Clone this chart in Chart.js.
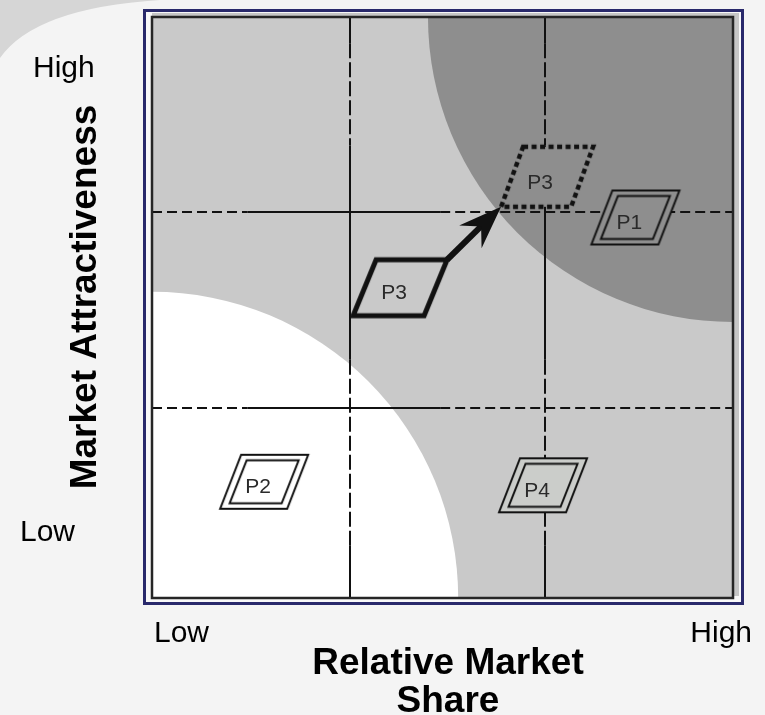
<!DOCTYPE html>
<html>
<head>
<meta charset="utf-8">
<title>Market Attractiveness / Relative Market Share</title>
<script src="https://cdn.jsdelivr.net/npm/chart.js@4.4.1/dist/chart.umd.min.js"></script>
<style>
  html, body { margin: 0; padding: 0; background: #f4f4f4; }
  #wrap { width: 765px; height: 715px; }
</style>
</head>
<body>
<div id="wrap"><canvas id="matrix" width="765" height="715"></canvas></div>
<script>
// products on the matrix, both axes run 0 (low) .. 100 (high)
const products = ['P1', 'P2', 'P3', 'P4'];
const shareValues = [83.2, 19.3, 42.7, 67.3];
const attractValues = [65.5, 20.0, 53.4, 19.4];

// where P3 is heading
const targetProducts = ['P3'];
const targetShare = [68.0];
const targetAttract = [72.5];

// quadrant dividers
const shareDividers = [34.1, 67.6];
const attractDividers = [32.7, 66.4];

// shaded zones: quarter circles out of two corners
const zoneX = [100, 0];
const zoneY = [100, 0];
const zoneRadius = [52.5, 52.7];

const xTickLabels = ['Low', 'High'];
const yTickLabels = ['Low', 'High'];
const xTitleLines = ['Relative Market', 'Share'];
const yTitle = 'Market Attractiveness';

// styles
const ink = '#111111';
const plotGray = '#c9c9c9';
const zoneColors = ['#8e8e8e', '#ffffff'];
const productKinds = ['double', 'double', 'bold', 'double'];
const productFills = ['#8e8e8e', '#ffffff', null, '#cbcdca'];
const labelFont = '21px "Liberation Sans", Arial, sans-serif';
const tickFont = '30px "Liberation Sans", Arial, sans-serif';
const titleFont = 'bold 37px "Liberation Sans", Arial, sans-serif';

// the scanned original has some divider runs solid and some dashed
const hSolidRun = [16.4, 49.6];
const vDashedRuns = [[95.5, 77.9], [41.0, 9.1]];

const shapes = {
  double: { w: 67, h: 54, skew: 21 },
  bold: { w: 71, h: 56, skew: 23 },
  dotted: { w: 70, h: 60, skew: 22 }
};

function parallelogram(g, cx, cy, w, h, skew) {
  g.beginPath();
  g.moveTo(cx - w / 2 + skew / 2, cy - h / 2);
  g.lineTo(cx + w / 2 + skew / 2, cy - h / 2);
  g.lineTo(cx + w / 2 - skew / 2, cy + h / 2);
  g.lineTo(cx - w / 2 - skew / 2, cy + h / 2);
  g.closePath();
}

function makeMarker(kind, fill) {
  const c = document.createElement('canvas');
  c.width = 100;
  c.height = 80;
  const g = c.getContext('2d');
  const s = shapes[kind];
  g.strokeStyle = ink;
  if (fill) {
    g.fillStyle = fill;
    parallelogram(g, 50, 40, s.w, s.h, s.skew);
    g.fill();
  }
  if (kind === 'double') {
    g.lineWidth = 2;
    parallelogram(g, 50, 40, s.w, s.h, s.skew);
    g.stroke();
    parallelogram(g, 50, 40, s.w - 15, s.h - 11, s.skew - 4);
    g.stroke();
  } else if (kind === 'bold') {
    g.lineWidth = 5;
    parallelogram(g, 50, 40, s.w, s.h, s.skew);
    g.stroke();
  } else {
    g.lineWidth = 4.5;
    g.setLineDash([5, 3.5]);
    parallelogram(g, 50, 40, s.w, s.h, s.skew);
    g.stroke();
  }
  return c;
}

const productMarkers = productKinds.map((k, i) => makeMarker(k, productFills[i]));
const targetMarker = makeMarker('dotted', '#8e8e8e');

const matrixPlugin = {
  id: 'matrixDecor',
  beforeDraw(chart) {
    const { ctx, chartArea: a, scales: { x, y } } = chart;
    ctx.save();

    // soft swoosh in the page corner
    ctx.fillStyle = '#d6d6d6';
    ctx.beginPath();
    ctx.moveTo(0, 0);
    ctx.lineTo(160, 0);
    ctx.quadraticCurveTo(35, 8, 0, 58);
    ctx.closePath();
    ctx.fill();

    // panel + navy border
    ctx.fillStyle = '#f8f8f8';
    ctx.fillRect(a.left - 7, a.top - 5, a.width + 15, a.height + 10);
    ctx.fillStyle = '#c6c6c6';
    ctx.fillRect(a.left, a.top - 4, a.width + 6, a.height + 2);
    ctx.strokeStyle = '#29296b';
    ctx.lineWidth = 3;
    ctx.strokeRect(a.left - 7.5, a.top - 6.5, a.width + 17, a.height + 12);

    // plot background and zones
    ctx.beginPath();
    ctx.rect(a.left, a.top, a.width, a.height);
    ctx.clip();
    ctx.fillStyle = plotGray;
    ctx.fillRect(a.left, a.top, a.width, a.height);
    const unit = x.getPixelForValue(1) - x.getPixelForValue(0);
    zoneX.forEach((zx, i) => {
      ctx.fillStyle = zoneColors[i];
      ctx.beginPath();
      ctx.arc(x.getPixelForValue(zx), y.getPixelForValue(zoneY[i]), zoneRadius[i] * unit, 0, Math.PI * 2);
      ctx.fill();
    });
    ctx.restore();
  },

  beforeDatasetsDraw(chart) {
    const { ctx, chartArea: a, scales: { x, y } } = chart;
    ctx.save();
    ctx.strokeStyle = ink;
    ctx.lineWidth = 2;
    const seg = (x1, y1, x2, y2, dash) => {
      ctx.setLineDash(dash);
      ctx.beginPath();
      ctx.moveTo(x1, y1);
      ctx.lineTo(x2, y2);
      ctx.stroke();
    };
    attractDividers.forEach(v => {
      const py = Math.round(y.getPixelForValue(v));
      const s0 = x.getPixelForValue(hSolidRun[0]);
      const s1 = x.getPixelForValue(hSolidRun[1]);
      seg(a.left, py, s0, py, [10, 5]);
      seg(s0, py, s1, py, []);
      seg(s1, py, a.right, py, [10, 5]);
    });
    shareDividers.forEach(v => {
      const px = Math.round(x.getPixelForValue(v));
      let cur = a.top;
      vDashedRuns.forEach(r => {
        const p0 = y.getPixelForValue(r[0]);
        const p1 = y.getPixelForValue(r[1]);
        seg(px, cur, px, p0, []);
        seg(px, p0, px, p1, [15, 4]);
        cur = p1;
      });
      seg(px, cur, px, a.bottom, []);
    });
    ctx.restore();
  },

  afterDatasetsDraw(chart) {
    const { ctx } = chart;
    const nowMeta = chart.getDatasetMeta(0).data;
    const goalMeta = chart.getDatasetMeta(1).data;
    ctx.save();

    // move arrow: from the P3 corner to the target's corner
    const b = shapes.bold, d = shapes.dotted;
    const from = nowMeta[products.indexOf('P3')];
    const to = goalMeta[0];
    const sx = from.x + b.w / 2 + b.skew / 2, sy = from.y - b.h / 2;
    const tx = to.x - d.w / 2 - d.skew / 2, ty = to.y + d.h / 2;
    const len = Math.hypot(tx - sx, ty - sy);
    const ux = (tx - sx) / len, uy = (ty - sy) / len;
    const px = -uy, py = ux;
    ctx.strokeStyle = ink;
    ctx.fillStyle = ink;
    ctx.lineWidth = 6;
    ctx.beginPath();
    ctx.moveTo(sx, sy);
    ctx.lineTo(tx - ux * 26, ty - uy * 26);
    ctx.stroke();
    ctx.beginPath();
    ctx.moveTo(tx, ty);
    ctx.lineTo(tx - ux * 43 + px * 16, ty - uy * 43 + py * 16);
    ctx.lineTo(tx - ux * 28, ty - uy * 28);
    ctx.lineTo(tx - ux * 43 - px * 16, ty - uy * 43 - py * 16);
    ctx.closePath();
    ctx.fill();

    // product names
    ctx.font = labelFont;
    ctx.fillStyle = '#2a2a2a';
    ctx.textAlign = 'center';
    ctx.textBaseline = 'alphabetic';
    nowMeta.forEach((pt, i) => ctx.fillText(products[i], pt.x - 6, pt.y + 11.5));
    goalMeta.forEach((pt, i) => ctx.fillText(targetProducts[i], pt.x - 7, pt.y + 12.5));
    ctx.restore();
  },

  afterDraw(chart) {
    const { ctx, chartArea: a } = chart;
    ctx.save();
    // inner frame
    ctx.strokeStyle = '#262626';
    ctx.lineWidth = 2.5;
    ctx.strokeRect(a.left, a.top, a.width, a.height);

    ctx.fillStyle = '#000';
    ctx.font = tickFont;
    ctx.textBaseline = 'alphabetic';
    ctx.textAlign = 'left';
    // y axis ends
    ctx.fillText(yTickLabels[1], a.left - 119, a.top + 60);
    ctx.fillText(yTickLabels[0], a.left - 132, a.bottom - 57);
    // x axis ends
    ctx.fillText(xTickLabels[0], a.left + 2, a.bottom + 44);
    ctx.textAlign = 'right';
    ctx.fillText(xTickLabels[1], a.right + 19, a.bottom + 44);

    ctx.font = titleFont;
    ctx.textAlign = 'center';
    ctx.fillText(xTitleLines[0], 448, a.bottom + 76);
    ctx.fillText(xTitleLines[1], 448, a.bottom + 114);

    ctx.translate(a.left - 56, 297);
    ctx.rotate(-Math.PI / 2);
    ctx.fillText(yTitle, 0, 0);
    ctx.restore();
  }
};

new Chart(document.getElementById('matrix'), {
  type: 'scatter',
  data: {
    datasets: [
      {
        label: 'Current position',
        data: products.map((p, i) => ({ x: shareValues[i], y: attractValues[i] })),
        pointStyle: productMarkers,
        pointRadius: 10
      },
      {
        label: 'Target position',
        data: targetProducts.map((p, i) => ({ x: targetShare[i], y: targetAttract[i] })),
        pointStyle: targetMarker,
        pointRadius: 10
      }
    ]
  },
  options: {
    responsive: false,
    animation: false,
    devicePixelRatio: 1,
    events: [],
    layout: { padding: { left: 152, top: 17, right: 32, bottom: 117 } },
    plugins: { legend: { display: false }, tooltip: { enabled: false } },
    scales: {
      x: { type: 'linear', min: 0, max: 100, display: false },
      y: { type: 'linear', min: 0, max: 100, display: false }
    }
  },
  plugins: [matrixPlugin]
});
</script>
</body>
</html>
